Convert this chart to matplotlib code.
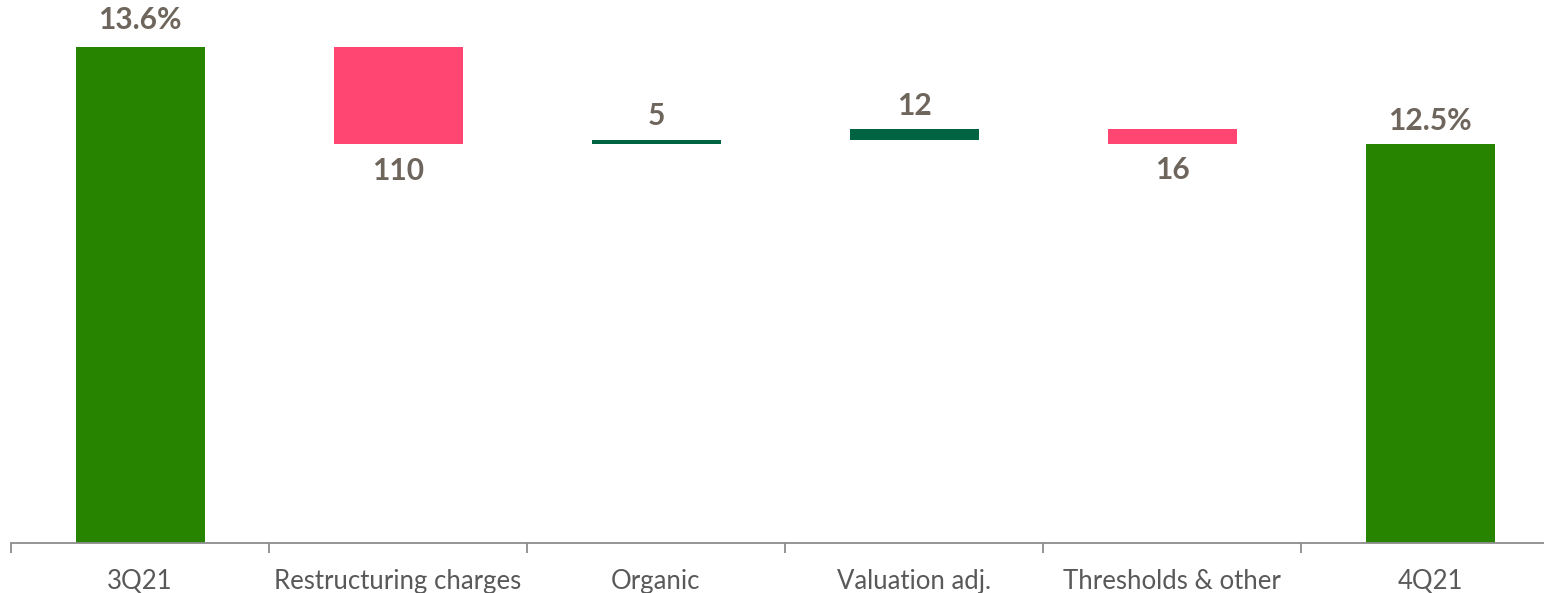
import matplotlib.pyplot as plt

# CET1 ratio bridge, 3Q21 -> 4Q21 (moves in bps)
categories = ["3Q21", "Restructuring charges", "Organic", "Valuation adj.",
              "Thresholds & other", "4Q21"]
start_ratio = 13.6
end_ratio = 12.5
moves_bps = [-110, 5, 12, -16]

GREEN = "#268400"
RED = "#FF4571"
DARK_GREEN = "#006443"
LABEL_GRAY = "#6E655C"
TICK_GRAY = "#595959"


def main():
    plt.rcParams["font.family"] = ["Lato", "DejaVu Sans"]

    fig = plt.figure(figsize=(15.44, 5.93), dpi=100)
    ax = fig.add_axes([11 / 1544, 50 / 593, 1533 / 1544, 543 / 593])

    width = 0.5
    label_kw = dict(ha="center", fontsize=21.5, fontweight="bold", color=LABEL_GRAY,
                    textcoords="offset points")

    # opening bar
    ax.bar(0, start_ratio, width=width, color=GREEN)
    ax.annotate(f"{start_ratio:.1f}%", (0, start_ratio), xytext=(0, 9),
                va="bottom", **label_kw)

    # floating steps
    level = start_ratio
    for i, bps in enumerate(moves_bps, start=1):
        delta = bps / 100
        lo, hi = min(level, level + delta), max(level, level + delta)
        color = DARK_GREEN if bps > 0 else RED
        ax.bar(i, hi - lo, bottom=lo, width=width, color=color)
        if bps > 0:
            ax.annotate(f"{abs(bps)}", (i, hi), xytext=(0, 7), va="bottom", **label_kw)
        else:
            ax.annotate(f"{abs(bps)}", (i, lo), xytext=(0, -9), va="top", **label_kw)
        level += delta

    # closing bar
    n = len(categories) - 1
    ax.bar(n, end_ratio, width=width, color=GREEN)
    ax.annotate(f"{end_ratio:.1f}%", (n, end_ratio), xytext=(0, 7),
                va="bottom", **label_kw)

    ax.set_ylim(8.0, 14.13)
    ax.set_xlim(-0.5, -0.5 + 1533 / 258)

    for side in ["top", "right", "left"]:
        ax.spines[side].set_visible(False)
    ax.spines["bottom"].set_color("#8C8C8C")
    ax.spines["bottom"].set_linewidth(1.3)
    ax.set_yticks([])

    ax.set_xticks(range(len(categories)))
    ax.set_xticklabels(categories, fontsize=18.5, color=TICK_GRAY)
    ax.tick_params(axis="x", which="major", length=0, pad=19)
    ax.set_xticks([i - 0.5 for i in range(len(categories))], minor=True)
    ax.tick_params(axis="x", which="minor", length=7, width=1.3, color="#8C8C8C",
                   direction="out")

    fig.savefig("out.png", dpi=100)


if __name__ == "__main__":
    main()
